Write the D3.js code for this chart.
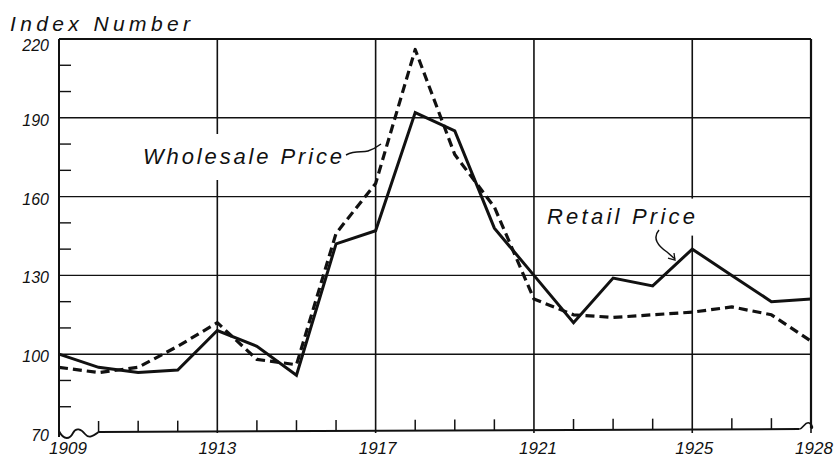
<!DOCTYPE html>
<html><head><meta charset="utf-8">
<script src="https://cdn.jsdelivr.net/npm/d3@7"></script>
<style>html,body{margin:0;padding:0;background:#fff;}svg{display:block;}</style>
</head><body>
<svg id="chart" width="834" height="459"></svg>
<script>
const years = [1909,1910,1911,1912,1913,1914,1915,1916,1917,1918,1919,1920,1921,1922,1923,1924,1925,1926,1927,1928];
const retail = [100,95,93,94,109,103,92,142,147,192,185,148,130,112,129,126,140,130,120,121];
const wholesale = [95,93,95,103,112,98,96,146,165,216,176,156,121,115,114,115,116,118,115,105];
const yTicks = [70,100,130,160,190,220];
const yMinor = [80,90,110,120,140,150,170,180,200,210];
const xLabels = [1909,1913,1917,1921,1925,1928];
const xGrid = [1913,1917,1921,1925,1928];
const yTitle = "Index Number";
const seriesNames = ["Wholesale Price","Retail Price"];

const svg = d3.select("#chart");
const L = 59, R = 811, T = 39, B = 433;
const x = d3.scaleLinear().domain([1909,1928]).range([L,R]);
const y = d3.scaleLinear().domain([70,220]).range([B,T]);
const ink = "#111";
const font = "'Liberation Sans', Arial, sans-serif";

// grid
const g = svg.append("g");
g.selectAll("line.h").data(yTicks.filter(v=>v>70)).join("line")
  .attr("x1",L).attr("x2",R).attr("y1",d=>y(d)).attr("y2",d=>y(d))
  .attr("stroke",ink).attr("stroke-width",1.4);
g.selectAll("line.v").data(xGrid).join("line")
  .attr("x1",d=>x(d)).attr("x2",d=>x(d)).attr("y1",T).attr("y2",B)
  .attr("stroke",ink).attr("stroke-width",1.6);

// label knockouts
svg.append("rect").attr("x",140).attr("y",134).attr("width",206).attr("height",46).attr("fill","#fff");
svg.append("rect").attr("x",543).attr("y",y(160)+2).attr("width",158).attr("height",37).attr("fill","#fff");

// left axis with inward minor ticks
svg.append("line").attr("x1",L).attr("x2",L).attr("y1",T).attr("y2",B+4).attr("stroke",ink).attr("stroke-width",2);
svg.selectAll("line.ym").data(yMinor).join("line")
  .attr("x1",L).attr("x2",L+12).attr("y1",d=>y(d)).attr("y2",d=>y(d))
  .attr("stroke",ink).attr("stroke-width",1.4);

// bottom axis with wavy breaks
const xb0 = x(1909), xb1 = x(1910), xe0 = x(1927.7), xe1 = x(1928);
svg.append("path")
  .attr("d",`M${xb0},${B-2} C${xb0+5},${B+8} ${xb0+11},${B+6} ${xb0+14},${B} S${xb0+22},${B-4} ${xb0+26},${B+1} S${xb0+34},${B+3} ${xb1},${B-1}`)
  .attr("fill","none").attr("stroke",ink).attr("stroke-width",1.8);
svg.append("line").attr("x1",xb1).attr("x2",xe0).attr("y1",B-1).attr("y2",B-4).attr("stroke",ink).attr("stroke-width",2);
svg.append("path")
  .attr("d",`M${xe0},${B-4} C${xe0+4},${B-4} ${xe0+6},${B-12} ${xe0+10},${B-10} S${xe0+14},${B-4} ${xe1},${B-5}`)
  .attr("fill","none").attr("stroke",ink).attr("stroke-width",1.6);
// top and right border
svg.append("line").attr("x1",L).attr("x2",R).attr("y1",T).attr("y2",T).attr("stroke",ink).attr("stroke-width",2);
svg.append("line").attr("x1",R).attr("x2",R).attr("y1",T).attr("y2",B-5).attr("stroke",ink).attr("stroke-width",2.2);

// year ticks
svg.selectAll("line.xt").data(years.filter(d=>!xGrid.includes(d) && d!==1909)).join("line")
  .attr("x1",d=>x(d)).attr("x2",d=>x(d)).attr("y1",d=>B-1-3*(d-1910)/18).attr("y2",d=>B-12-3*(d-1910)/18)
  .attr("stroke",ink).attr("stroke-width",1.5);

// data lines
const line = d3.line().x((d,i)=>x(years[i])).y(d=>y(d));
svg.append("path").attr("d",line(wholesale)).attr("fill","none").attr("stroke",ink)
  .attr("stroke-width",3.2).attr("stroke-dasharray","9,5").attr("stroke-linejoin","round");
svg.append("path").attr("d",line(retail)).attr("fill","none").attr("stroke",ink)
  .attr("stroke-width",3).attr("stroke-linejoin","miter");

// y tick labels
svg.selectAll("text.yl").data(yTicks).join("text")
  .attr("x",49).attr("y",d=>y(d)+(d===220?12:8))
  .attr("text-anchor","end").attr("font-family",font).attr("font-style","italic")
  .attr("font-size",16).attr("fill",ink).text(d=>d);
// x tick labels
const xOff = {1909:9,1913:0,1917:2,1921:4,1925:2,1928:3};
svg.selectAll("text.xl").data(xLabels).join("text")
  .attr("x",d=>x(d)+xOff[d]).attr("y",454)
  .attr("text-anchor","middle").attr("font-family",font).attr("font-style","italic")
  .attr("font-size",17).attr("fill",ink).text(d=>d);
// title
svg.append("text").attr("x",10).attr("y",31).attr("font-family",font).attr("font-style","italic")
  .attr("font-size",21).attr("fill",ink).attr("textLength",180).attr("lengthAdjust","spacing").text(yTitle);

// series labels
svg.append("text").attr("x",143).attr("y",164).attr("font-family",font).attr("font-style","italic")
  .attr("font-size",22).attr("fill",ink).attr("textLength",199).attr("lengthAdjust","spacing").text(seriesNames[0]);
svg.append("text").attr("x",547).attr("y",224).attr("font-family",font).attr("font-style","italic")
  .attr("font-size",22).attr("fill",ink).attr("textLength",148).attr("lengthAdjust","spacing").text(seriesNames[1]);

// leaders
svg.append("path").attr("d","M346,155 C356,150 362,153 368,151 C374,149 377,147 381,144")
  .attr("fill","none").attr("stroke",ink).attr("stroke-width",1.5);
svg.append("path").attr("d","M659,230 C652,238 658,246 667,252 L675,259")
  .attr("fill","none").attr("stroke",ink).attr("stroke-width",1.5);
svg.append("path").attr("d","M668,258 L675,260 L674,253")
  .attr("fill","none").attr("stroke",ink).attr("stroke-width",1.3);
</script>
</body></html>
